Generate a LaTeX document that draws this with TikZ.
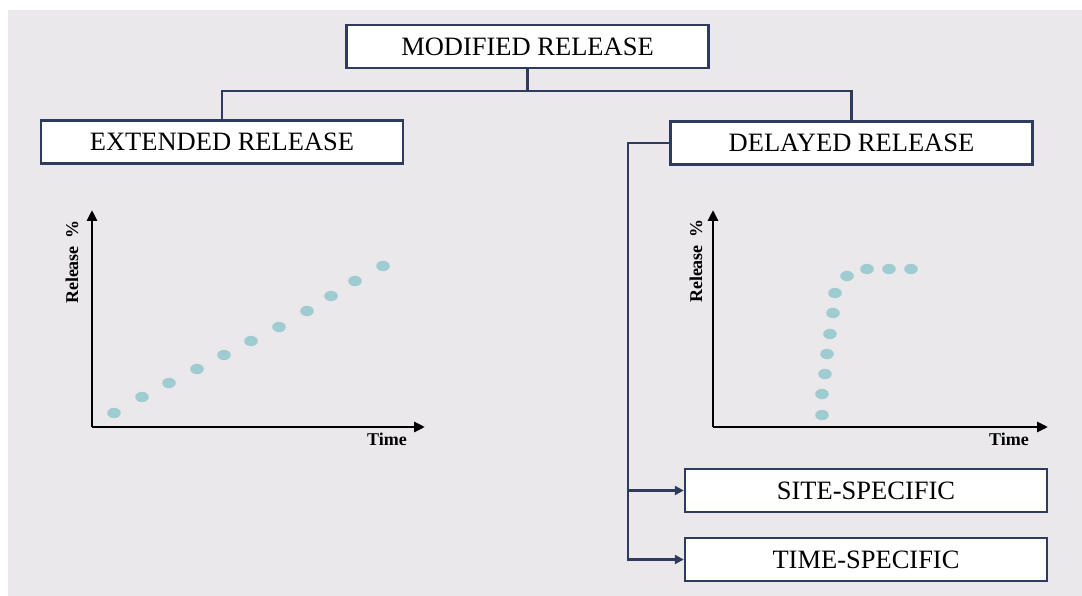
\documentclass[tikz,border=0pt]{standalone}
\usepackage{fontspec}
\setmainfont{Liberation Serif}
\usetikzlibrary{arrows.meta}
\definecolor{panel}{HTML}{EAE8EB}
\definecolor{navy}{HTML}{2F3B5E}
\definecolor{dotc}{HTML}{9FCCD1}
\tikzset{
  box/.style={draw=navy, line width=2.4pt, fill=white, minimum width=362pt,
    minimum height=43pt, inner sep=0pt, font=\fontsize{26.5}{30}\selectfont},
  conn/.style={draw=navy, line width=2.4pt},
  arr/.style={-{Triangle[length=9pt,width=9pt]}},
  axis/.style={draw=black, line width=2.8pt, -{Triangle[length=11pt,width=10pt]}},
  axlabel/.style={font=\bfseries\fontsize{18}{21}\selectfont, inner sep=0pt},
  pt/.style={fill=dotc, draw=none},
}
\begin{document}
\begin{tikzpicture}[x=1pt, y=-1pt]
  % page and panel
  \fill[white] (0,0) rectangle (1082,596);
  \fill[panel] (8,10) rectangle (1082,596);
  \useasboundingbox (0,0) rectangle (1082,596);

  % hierarchy boxes
  \node[box] (MR) at (527.5,46.5) {MODIFIED RELEASE};
  \node[box] (ER) at (222,142) {EXTENDED RELEASE};
  \node[box] (DR) at (851.5,143) {DELAYED RELEASE};
  \node[box] (SS) at (866,490.5) {SITE-SPECIFIC};
  \node[box] (TS) at (866,559.5) {TIME-SPECIFIC};

  % tree connectors
  \coordinate (hub) at (527.5,91);
  \coordinate (spine) at (628,0);
  \draw[conn] (MR.south) -- (hub);
  \draw[conn] (ER.north) |- (hub) -| (DR.north);
  \draw[conn, arr] (DR.west) -- (DR.west -| spine) |- (TS.west);
  \draw[conn, arr] (spine |- SS.west) -- (SS.west);

  % extended release profile
  \coordinate (o1) at (92,427);
  \draw[axis] (o1) -- (92,210);
  \draw[axis] (o1) -- (425,427);
  \node[axlabel, rotate=90] (y1) at (72,262) {Release\hspace{8pt}\%};
  \node[axlabel] (x1) at (387,439) {Time};
  \foreach \x/\y in {114/413, 142/397, 169/383, 197/369, 224/355, 251/341,
                     279/327, 307/311, 331/296, 355/281, 383/266}
    \fill[pt] (\x,\y) ellipse [x radius=6.8pt, y radius=5.2pt];

  % delayed release profile
  \coordinate (o2) at (713,427);
  \draw[axis] (o2) -- (713,210);
  \draw[axis] (o2) -- (1048,427);
  \node[axlabel, rotate=90] (y2) at (696,261) {Release\hspace{8pt}\%};
  \node[axlabel] (x2) at (1009,439) {Time};
  \foreach \x/\y in {822/415, 822/394, 825/374, 827/354, 830/334, 833/313,
                     835/293, 847/276, 867/269, 889/269, 911/269}
    \fill[pt] (\x,\y) ellipse [x radius=6.8pt, y radius=5.2pt];
\end{tikzpicture}
\end{document}
